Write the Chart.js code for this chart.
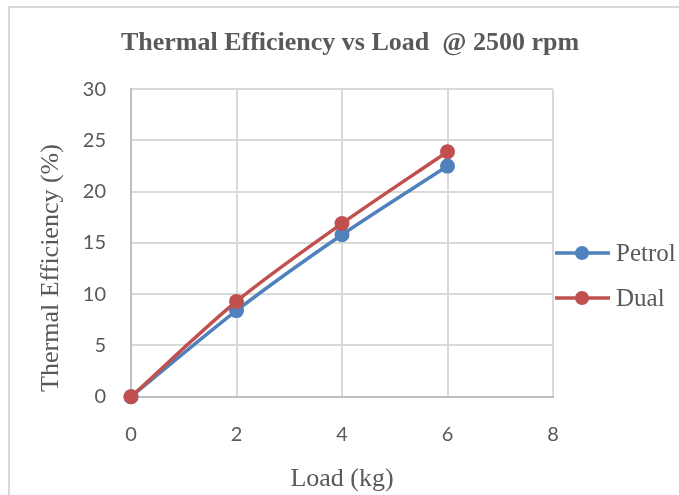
<!DOCTYPE html>
<html>
<head>
<meta charset="utf-8">
<script src="https://cdn.jsdelivr.net/npm/chart.js@4.4.0/dist/chart.umd.min.js"></script>
<style>
    html, body { margin: 0; padding: 0; background: #fff; }
    #wrap { position: relative; width: 679px; height: 495px; overflow: hidden; }
    #frame { position: absolute; left: 8px; top: 6px; width: 700px; height: 520px; border-left: 2px solid #d9d9d9; border-top: 2px solid #d9d9d9; }
    #chart { position: absolute; left: 0; top: 0; }
</style>
</head>
<body>
<div id="wrap">
    <div id="frame"></div>
    <canvas id="chart" width="679" height="495"></canvas>
</div>
<script>
// Load (kg) values and thermal efficiency (%)
const loads = [0, 2, 4, 6];
const petrolEff = [0, 8.4, 15.8, 22.5];
const dualEff = [0, 9.3, 16.9, 23.9];

const seriesNames = ['Petrol', 'Dual'];
const seriesColors = ['#4f81bd', '#c0504d'];

const xRange = { min: 0, max: 8, step: 2 };
const yRange = { min: 0, max: 30, step: 5 };

const textGray = '#595959';
const serif = "'Liberation Serif', 'Times New Roman', serif";

// y axis title, drawn a bit below the plot centre like the original
const yTitlePlugin = {
    id: 'yTitle',
    afterDraw(chart) {
        const ctx = chart.ctx;
        ctx.save();
        ctx.translate(51, 268);
        ctx.rotate(-Math.PI / 2);
        ctx.font = `26px ${serif}`;
        ctx.fillStyle = textGray;
        ctx.textAlign = 'center';
        ctx.textBaseline = 'middle';
        ctx.fillText('Thermal Efficiency (%)', 0, 0);
        ctx.restore();
    }
};

// legend on the right: line with a dot, then the name
const sideLegendPlugin = {
    id: 'sideLegend',
    afterDraw(chart) {
        const ctx = chart.ctx;
        const left = chart.chartArea.right + 2;
        const rows = [253, 298];
        chart.data.datasets.forEach((ds, i) => {
            const y = rows[i];
            ctx.save();
            ctx.strokeStyle = ds.borderColor;
            ctx.lineWidth = 3.5;
            ctx.beginPath();
            ctx.moveTo(left, y);
            ctx.lineTo(left + 55, y);
            ctx.stroke();
            ctx.fillStyle = ds.borderColor;
            ctx.beginPath();
            ctx.arc(left + 27, y, 7, 0, Math.PI * 2);
            ctx.fill();
            ctx.font = `25px ${serif}`;
            ctx.fillStyle = textGray;
            ctx.textBaseline = 'middle';
            ctx.fillText(ds.label, left + 61, y + 1);
            ctx.restore();
        });
    }
};

function makeSeries(values, idx, order) {
    return {
        label: seriesNames[idx],
        data: loads.map((x, i) => ({ x: x, y: values[i] })),
        borderColor: seriesColors[idx],
        backgroundColor: seriesColors[idx],
        pointBackgroundColor: seriesColors[idx],
        pointBorderWidth: 0,
        pointRadius: 7.5,
        borderWidth: 3.5,
        tension: 0.3,
        clip: false,
        order: order
    };
}

new Chart(document.getElementById('chart').getContext('2d'), {
    type: 'line',
    data: {
        datasets: [
            makeSeries(petrolEff, 0, 2),
            makeSeries(dualEff, 1, 1)
        ]
    },
    options: {
        responsive: false,
        animation: false,
        layout: { padding: { left: 21, right: 0, top: 0, bottom: 0 } },
        plugins: {
            legend: { display: false },
            tooltip: { enabled: false },
            title: {
                display: true,
                text: 'Thermal Efficiency vs Load  @ 2500 rpm',
                color: textGray,
                font: { family: serif, size: 26, weight: 'bold' },
                padding: { top: 28, bottom: 30 }
            }
        },
        scales: {
            x: {
                type: 'linear',
                min: xRange.min,
                max: xRange.max,
                ticks: {
                    stepSize: xRange.step,
                    color: textGray,
                    font: { family: 'Lato', size: 20 },
                    padding: 26
                },
                grid: { color: '#d9d9d9', lineWidth: 2, drawTicks: false },
                border: { color: '#bfbfbf', width: 2 },
                title: {
                    display: true,
                    text: 'Load (kg)',
                    color: textGray,
                    font: { family: serif, size: 26 },
                    padding: { top: 0, bottom: 0 }
                },
                afterFit: s => { s.height = 98.3; }
            },
            y: {
                min: yRange.min,
                max: yRange.max,
                ticks: {
                    stepSize: yRange.step,
                    color: textGray,
                    font: { family: 'Lato', size: 20 },
                    padding: 25
                },
                grid: { color: '#d9d9d9', lineWidth: 2, drawTicks: false },
                border: { color: '#bfbfbf', width: 2 },
                afterFit: s => { s.width = 110; }
            },
            // empty axis that only keeps room for the legend
            side: {
                position: 'right',
                grid: { display: false },
                ticks: { display: false },
                border: { display: false },
                afterFit: s => { s.width = 126; }
            }
        }
    },
    plugins: [yTitlePlugin, sideLegendPlugin]
});
</script>
</body>
</html>
